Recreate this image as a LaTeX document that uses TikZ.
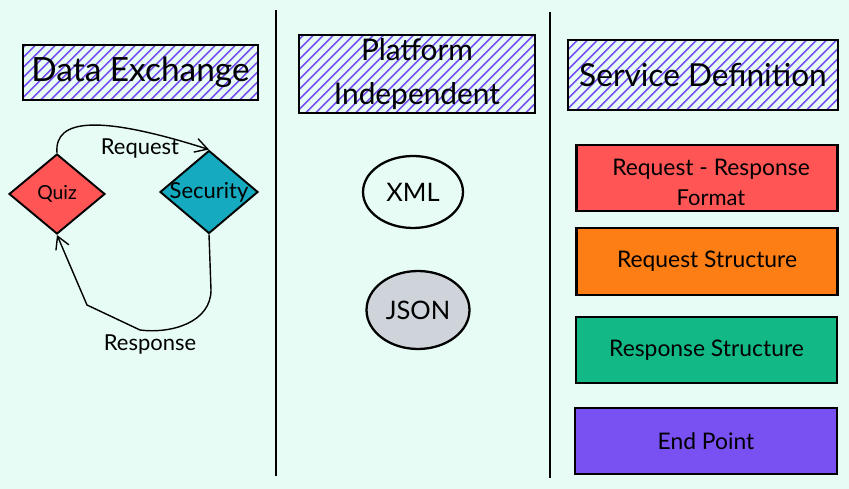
\documentclass[tikz,border=0pt]{standalone}
\usepackage{fontspec}
\setmainfont{Lato}
\usepackage{tikz}
\usetikzlibrary{
	arrows.meta,
	shapes.geometric,
	patterns.meta,
	positioning
}
\definecolor{MintBg}{HTML}{E6FCF5}
\definecolor{HatchBlue}{HTML}{7950F2}
\definecolor{QuizRed}{HTML}{FF5555}
\definecolor{SecTeal}{HTML}{15AABF}
\definecolor{ReqOrange}{HTML}{FD7E14}
\definecolor{ResGreen}{HTML}{12B886}
\definecolor{EndPurple}{HTML}{7950F2}
\definecolor{JsonGray}{HTML}{CED4DA}

\begin{document}
\begin{tikzpicture}[x=0.02cm, y=-0.02cm,
		titlebox/.style={draw, line width=1.2pt, inner sep=0pt, align=center,
			pattern={Lines[angle=45, distance=4pt, line width=1pt]}, pattern color=HatchBlue},
		decision/.style={diamond, draw, line width=1.1pt, inner sep=0pt},
		format/.style={ellipse, draw, line width=1.3pt, inner sep=0pt,
			font=\fontsize{14.5}{17}\selectfont},
		defbox/.style={draw, line width=1.2pt, inner sep=0pt, align=center,
			minimum width=5.22cm, minimum height=1.32cm, font=\fontsize{13}{18}\selectfont},
		flow/.style={line width=0.8pt, -{Straight Barb[length=7pt, width=8pt]}},
		lbl/.style={font=\fontsize{12.5}{14}\selectfont}
	]
	\fill[MintBg] (0,0) rectangle (849,489);
	\useasboundingbox (0,0) rectangle (849,489);
	
	% column dividers
	\draw[line width=1.1pt] (276,10) -- (276,476);
	\draw[line width=1.1pt] (550,12) -- (550,478);
	
	% titles
	\node[titlebox, minimum width=4.7cm, minimum height=1.1cm, font=\fontsize{19}{22}\selectfont] (dataex) at (140.5,72.5) {Data Exchange};
	\node[titlebox, minimum width=4.72cm, minimum height=1.56cm, font=\fontsize{17}{25}\selectfont] (platform) at (417,74) {Platform\\Independent};
	\node[titlebox, minimum width=5.4cm, minimum height=1.4cm, font=\fontsize{18}{22}\selectfont] (servdef) at (703,75) {Service Definition};
	
	% data exchange
	\node[decision, fill=QuizRed, minimum width=1.92cm, minimum height=1.6cm,
		label={[font=\fontsize{11}{13}\selectfont]center:Quiz}] (quiz) at (57,194) {};
	\node[decision, fill=SecTeal, minimum width=1.96cm, minimum height=1.66cm,
		label={[font=\fontsize{12.5}{14}\selectfont]center:Security}] (security) at (209,192) {};
	\draw[flow] (quiz.north) .. controls (54,118) and (100,115) .. (security.north);
	\draw[flow] (security.south) -- (211,290) .. controls (211,322) and (172,334) .. (140,330) -- (87,305) -- (quiz.south);
	\node[lbl] (reqlbl) at (140,149) {Request};
	\node[lbl] (reslbl) at (150,345) {Response};
	
	% platform independent
	\node[format, minimum width=2cm, minimum height=1.44cm] (xml) at (413,192) {XML};
	\node[format, fill=JsonGray, minimum width=2.06cm, minimum height=1.56cm] (json) at (418,310) {JSON};
	
	% service definition
	\node[defbox, fill=QuizRed, minimum height=1.32cm] (reqres) at (707,178) {};
	\node[font=\fontsize{13}{18}\selectfont, align=center, inner sep=0pt] (reqrestxt) at (711,182) {Request - Response\\[-1pt]{\fontsize{12.5}{14}\selectfont Format}};
	\node[defbox, fill=ReqOrange, minimum height=1.34cm] (reqstruct) at (707,261.5) {Request Structure};
	\node[defbox, fill=ResGreen] (resstruct) at (706.5,350) {Response Structure};
	\node[defbox, fill=EndPurple, minimum width=5.24cm] (endpoint) at (706,441) {End Point};
\end{tikzpicture}
\end{document}
